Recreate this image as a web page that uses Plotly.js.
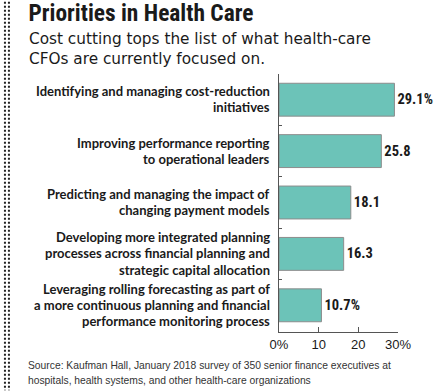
<!DOCTYPE html>
<html>
<head>
<meta charset="utf-8">
<script src="https://cdn.plot.ly/plotly-3.0.1.min.js"></script>
<style>html,body{margin:0;padding:0;background:#fff;}#chart{width:440px;height:391px;}</style>
</head>
<body>
<div id="chart"></div>
<script>
const categories = [
  "Identifying and managing cost-reduction<br>initiatives",
  "Improving performance reporting<br>to operational leaders",
  "Predicting and managing the impact of<br>changing payment models",
  "Developing more integrated planning<br>processes across financial planning and<br>strategic capital allocation",
  "Leveraging rolling forecasting as part of<br>a more continuous planning and financial<br>performance monitoring process"
];
const values = [29.1, 25.8, 18.1, 16.3, 10.7];
const valueLabels = ["29.1%", "25.8", "18.1", "16.3", "10.7%"];
const xTickVals = [0, 10, 20, 30];
const xTickText = ["0%", "10", "20", "30%"];
const titleText = "Priorities in Health Care";
const subtitleText = "Cost cutting tops the list of what health-care<br>CFOs are currently focused on.";
const sourceLines = [
  "Source: Kaufman Hall, January 2018 survey of 350 senior finance executives at",
  "hospitals, health systems, and other health-care organizations"
];

const W = 440, H = 391;
const M = {l: 279, r: 41.5, t: 73.5, b: 58.5};
const pw = W - M.l - M.r, ph = H - M.t - M.b;
const px2x = p => (p - M.l) / pw;
const py2y = p => (H - M.b - p) / ph;

const cond = "Roboto Condensed, Lato, sans-serif";
const label = "Lato, Roboto Condensed, sans-serif";
const sans = "DejaVu Sans, Open Sans, sans-serif";
const small = "Liberation Sans, Arial, sans-serif";
const ink = "#1a1a1a";

const trace = {
  type: "bar",
  orientation: "h",
  y: categories,
  x: values,
  text: valueLabels,
  textposition: "outside",
  cliponaxis: false,
  constraintext: "none",
  textfont: {family: cond, size: 14.5, color: ink, weight: 700},
  marker: {color: "#6cc3b8", line: {color: "#8c8c8c", width: 1}},
  hoverinfo: "none"
};

const dotLine = x => ({
  type: "line", xref: "paper", yref: "paper",
  x0: px2x(x), x1: px2x(x), y0: py2y(1), y1: py2y(391),
  line: {color: "#222", width: 2, dash: "2px,2px"}
});

// category labels: one annotation per line, anchored on the category position
const LINE = 16.2;
const catAnns = [];
categories.forEach(cat => {
  const lines = cat.split("<br>");
  const n = lines.length;
  lines.forEach((ln, i) => {
    catAnns.push({
      text: ln, xref: "x", yref: "y", x: 0, y: cat,
      xanchor: "right", yanchor: "middle", xshift: -7.5,
      yshift: -(i - (n - 1) / 2) * LINE + 0.5,
      showarrow: false, align: "right",
      font: {family: label, size: 13, color: ink, weight: 700}
    });
  });
});

const textLine = (t, x, yc, font) => ({
  text: t, xref: "paper", yref: "paper",
  x: px2x(x), y: py2y(yc), xanchor: "left", yanchor: "middle", align: "left",
  showarrow: false, font: font
});

const layout = {
  width: W, height: H,
  margin: M,
  paper_bgcolor: "#fff", plot_bgcolor: "#fff",
  showlegend: false,
  bargap: 0.36,
  title: {
    text: titleText,
    font: {family: cond, size: 23.4, color: ink, weight: 700},
    xref: "container", yref: "container",
    x: 28.5 / W, xanchor: "left",
    y: 1 - 5 / H, yanchor: "top"
  },
  xaxis: {
    range: [0, 30], fixedrange: true,
    tickvals: xTickVals, ticktext: xTickText,
    ticks: "inside", ticklen: 5, tickcolor: "#555", tickwidth: 1,
    showline: true, linecolor: "#555", linewidth: 1,
    showgrid: false, zeroline: false,
    tickfont: {family: small, size: 13, color: ink}
  },
  yaxis: {
    type: "category",
    categoryorder: "array", categoryarray: categories,
    autorange: "reversed",
    tickson: "boundaries",
    ticks: "inside", ticklen: 3, tickcolor: "#555", tickwidth: 1,
    showline: true, linecolor: "#555", linewidth: 1,
    showgrid: false, zeroline: false,
    showticklabels: false
  },
  shapes: [dotLine(3.8), dotLine(7.8)],
  annotations: catAnns.concat([
    {
      text: subtitleText, xref: "paper", yref: "paper",
      x: px2x(26), y: py2y(48), xanchor: "left", yanchor: "middle", align: "left",
      showarrow: false, font: {family: sans, size: 15.3, color: ink}
    },
    textLine(sourceLines[0], 25, 366.5, {family: small, size: 10.3, color: "#333"}),
    textLine(sourceLines[1], 25, 381.5, {family: small, size: 10.3, color: "#333"})
  ])
};

Plotly.newPlot("chart", [trace], layout, {displayModeBar: false, staticPlot: true});
</script>
</body>
</html>
